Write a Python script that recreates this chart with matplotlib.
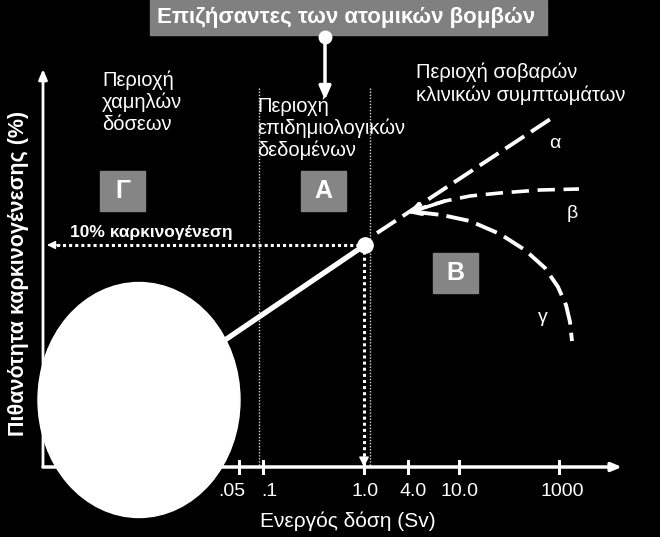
import matplotlib
matplotlib.use("Agg")
from matplotlib import pyplot as plt
from matplotlib.patches import Ellipse, Rectangle

plt.rcParams['font.family'] = ['Liberation Sans', 'DejaVu Sans']

# picture units: x to the right, y downward (figure is 660 x 537)
# dose axis
dose_labels = ['.05', '.1', '1.0', '4.0', '10.0', '1000']
dose_x = [239, 263, 364, 408, 459, 559]
label_x = [232, 269, 365, 413, 460, 562]
axis_y = 467
axis_x = 43

# region borders (thin dotted)
border_x = [259, 370]

# 10% risk point (atomic bomb survivors)
point_x, point_y = 365, 245

# linear extrapolation towards low doses (solid)
low_x = [225, 365]
low_y = [340, 245]

# curves above the epidemiological region
alpha_x = [377, 552]
alpha_y = [233, 118]
beta_x = [410, 425, 445, 470, 500, 540, 579]
beta_y = [212, 207, 201, 196, 193, 190, 189]
gamma_x = [416, 442, 470, 500, 525, 545, 558, 566, 570, 572]
gamma_y = [212, 215, 221, 234, 250, 268, 287, 305, 322, 341]

fig = plt.figure(figsize=(6.6, 5.37), dpi=100)
fig.patch.set_facecolor('black')
ax = fig.add_axes([0, 0, 1, 1])
ax.set_xlim(0, 660)
ax.set_ylim(537, 0)
ax.axis('off')

W = 'white'
GREY = '#858585'

# title box
ax.add_patch(Rectangle((150, 0), 397, 35, color='#808080', zorder=1))
ax.text(346, 18, 'Επιζήσαντες των ατομικών βομβών', color=W, fontsize=16,
        fontweight='bold', ha='center', va='center', zorder=2)
ax.plot([325], [37], 'o', color=W, ms=9, zorder=3)
ax.annotate('', xy=(325, 100), xytext=(325, 37),
            arrowprops=dict(arrowstyle='-|>,head_length=0.8,head_width=0.35',
                            color=W, lw=2.5, shrinkA=0, shrinkB=0))

# axes
ax.annotate('', xy=(axis_x, 69), xytext=(axis_x, axis_y),
            arrowprops=dict(arrowstyle='-|>,head_length=0.6,head_width=0.25',
                            color=W, lw=2, shrinkA=0, shrinkB=0))
ax.annotate('', xy=(622, axis_y), xytext=(axis_x, axis_y),
            arrowprops=dict(arrowstyle='-|>,head_length=0.6,head_width=0.25',
                            color=W, lw=2.5, shrinkA=0, shrinkB=0))
for x in dose_x:
    ax.plot([x, x], [axis_y - 6, axis_y + 6], color=W, lw=2.2)
for x, lab in zip(label_x, dose_labels):
    ax.text(x, 491, lab, color=W, fontsize=14, ha='center', va='center')
ax.text(348, 521, 'Ενεργός δόση (Sv)', color=W, fontsize=15,
        ha='center', va='center')
ax.text(19, 273, 'Πιθανότητα καρκινογένεσης (%)', color=W, fontsize=15.5,
        fontweight='bold', rotation=90, ha='center', va='center')

# region borders
for x in border_x:
    ax.plot([x, x], [88, axis_y], color='#d8d8d8', lw=1, ls=(0, (1, 1.2)))

# 10% level and its dose
ax.plot([point_x, 56], [point_y, point_y], color=W, lw=2.2, ls=(0, (1, 1)))
ax.annotate('', xy=(47, point_y), xytext=(60, point_y),
            arrowprops=dict(arrowstyle='-|>,head_length=0.5,head_width=0.25',
                            color=W, lw=1, shrinkA=0, shrinkB=0))
ax.plot([point_x - 1, point_x - 1], [point_y, axis_y - 8], color=W, lw=2.2,
        ls=(0, (1, 1)))
ax.annotate('', xy=(point_x - 1, axis_y), xytext=(point_x - 1, axis_y - 12),
            arrowprops=dict(arrowstyle='-|>,head_length=0.6,head_width=0.3',
                            color=W, lw=1, shrinkA=0, shrinkB=0))
ax.text(151, 232, '10% καρκινογένεση', color=W, fontsize=12.5,
        fontweight='bold', ha='center', va='center')

# low dose extrapolation and the point
ax.plot(low_x, low_y, color=W, lw=3.8, solid_capstyle='butt', zorder=4)
ax.plot([point_x], [point_y], 'o', color=W, ms=11, zorder=5)

# big low-dose blob
ax.add_patch(Ellipse((139, 400), 202, 235, color=W, zorder=6))

# curves
dash = (0, (5.8, 2.1))
ax.plot(alpha_x, alpha_y, color=W, lw=2.8, ls=dash, dash_capstyle='butt')
ax.plot(beta_x, beta_y, color=W, lw=2.6, ls=(0, (4.8, 2.4)), dash_capstyle='butt')
ax.plot(gamma_x, gamma_y, color=W, lw=2.8, ls=dash, dash_capstyle='butt')
ax.annotate('', xy=(beta_x[0] - 2, beta_y[0] + 1), xytext=(beta_x[2], beta_y[2]),
            arrowprops=dict(arrowstyle='->,head_length=0.7,head_width=0.4',
                            color=W, lw=2.6, shrinkA=0, shrinkB=0))
ax.text(555, 143, 'α', color=W, fontsize=14, ha='center', va='center')
ax.text(572, 213, 'β', color=W, fontsize=14, ha='center', va='center')
ax.text(543, 318, 'γ', color=W, fontsize=14, ha='center', va='center')

# region texts
ax.text(102, 71, 'Περιοχή\nχαμηλών\nδόσεων', color=W, fontsize=14.5,
        ha='left', va='top', linespacing=1.15)
ax.text(257, 97, 'Περιοχή\nεπιδημιολογικών\nδεδομένων', color=W, fontsize=14.5,
        ha='left', va='top', linespacing=1.15)
ax.text(416, 63, 'Περιοχή σοβαρών\nκλινικών συμπτωμάτων', color=W, fontsize=14.5,
        ha='left', va='top', linespacing=1.22)

# letter boxes
for (bx, by), letter in zip([(100, 171), (301, 171), (433, 253)], ['Γ', 'Α', 'Β']):
    ax.add_patch(Rectangle((bx, by), 45, 40, color=GREY, zorder=1))
    ax.text(bx + 22.5, by + 20, letter, color=W, fontsize=18,
            fontweight='bold', ha='center', va='center', zorder=2)

fig.savefig('out.png', dpi=100, facecolor='black')
